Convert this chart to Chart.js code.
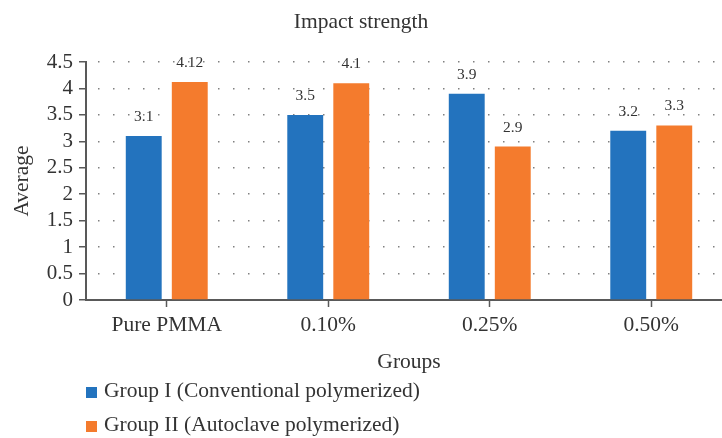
<!DOCTYPE html>
<html>
<head>
<meta charset="utf-8">
<script src="https://cdn.jsdelivr.net/npm/chart.js@4.4.0/dist/chart.umd.min.js"></script>
<style>
html, body { margin: 0; padding: 0; background: #fff; overflow: hidden; }
#wrap { width: 740px; height: 438px; }
</style>
</head>
<body>
<div id="wrap"><canvas id="canvas" width="740" height="438"></canvas></div>
<script>
// data
const groups = ['Pure PMMA', '0.10%', '0.25%', '0.50%'];
const conventional = [3.1, 3.5, 3.9, 3.2];
const autoclave = [4.12, 4.1, 2.9, 3.3];
const seriesNames = ['Group I (Conventional polymerized)', 'Group II (Autoclave polymerized)'];
const chartTitle = 'Impact strength';

const serif = '"Liberation Serif", "Times New Roman", serif';
const textColor = '#333333';
const axisColor = '#595959';

// value labels, title and the stacked legend
const extras = {
    id: 'extras',
    afterDatasetsDraw(chart) {
        const ctx = chart.ctx;
        ctx.save();
        ctx.font = '15.5px ' + serif;
        ctx.fillStyle = textColor;
        ctx.textAlign = 'center';
        ctx.textBaseline = 'alphabetic';
        chart.data.datasets.forEach(function (ds, i) {
            chart.getDatasetMeta(i).data.forEach(function (bar, j) {
                ctx.fillText(String(ds.data[j]), bar.x, bar.y - 15);
            });
        });
        ctx.restore();
    },
    afterDraw(chart) {
        const ctx = chart.ctx;
        ctx.save();
        ctx.fillStyle = textColor;
        ctx.font = '21.5px ' + serif;
        ctx.textAlign = 'center';
        ctx.fillText(chartTitle, 361, 28);

        ctx.textAlign = 'left';
        ctx.font = '21.5px ' + serif;
        chart.data.datasets.forEach(function (ds, i) {
            const base = 397 + i * 34;
            ctx.fillStyle = ds.backgroundColor;
            ctx.fillRect(86, base - 10, 11, 11);
            ctx.fillStyle = textColor;
            ctx.fillText(ds.label, 104, base);
        });
        ctx.restore();
    }
};

const ctx = document.getElementById('canvas').getContext('2d');
const myChart = new Chart(ctx, {
    type: 'bar',
    data: {
        labels: groups,
        datasets: [{
            label: seriesNames[0],
            data: conventional,
            backgroundColor: '#2373be',
            barPercentage: 0.78,
            categoryPercentage: 0.57
        }, {
            label: seriesNames[1],
            data: autoclave,
            backgroundColor: '#f47b2d',
            barPercentage: 0.78,
            categoryPercentage: 0.57
        }]
    },
    options: {
        responsive: false,
        animation: false,
        devicePixelRatio: 1,
        layout: { padding: { top: 62, right: 8, left: 0, bottom: 0 } },
        plugins: {
            legend: { display: false },
            title: { display: false },
            tooltip: { enabled: false }
        },
        scales: {
            x: {
                afterFit: function (s) { s.height = 138; },
                grid: {
                    offset: false,
                    drawOnChartArea: false,
                    drawTicks: true,
                    tickLength: 7,
                    tickColor: axisColor,
                    tickWidth: 1.5
                },
                border: { color: axisColor, width: 2 },
                ticks: {
                    color: textColor,
                    font: { family: serif, size: 21.5 },
                    padding: 5
                },
                title: {
                    display: true,
                    text: 'Groups',
                    color: textColor,
                    font: { family: serif, size: 21.5 },
                    padding: { top: 0, bottom: 63 }
                }
            },
            y: {
                min: 0,
                max: 4.5,
                afterFit: function (s) { s.width = 86; },
                grid: {
                    color: '#808080',
                    lineWidth: 1.5,
                    drawTicks: true,
                    tickLength: 7,
                    tickColor: axisColor,
                    tickWidth: 1.5,
                    tickBorderDash: []
                },
                border: { color: axisColor, width: 2, dash: [1.5, 13.5], dashOffset: 4 },
                ticks: {
                    stepSize: 0.5,
                    autoSkip: false,
                    color: textColor,
                    font: { family: serif, size: 21 },
                    padding: 6,
                    callback: function (value) { return String(value); }
                },
                title: {
                    display: true,
                    text: 'Average',
                    color: textColor,
                    font: { family: serif, size: 21.5 },
                    padding: { top: 9, bottom: 0 }
                }
            }
        }
    },
    plugins: [extras]
});
</script>
</body>
</html>
